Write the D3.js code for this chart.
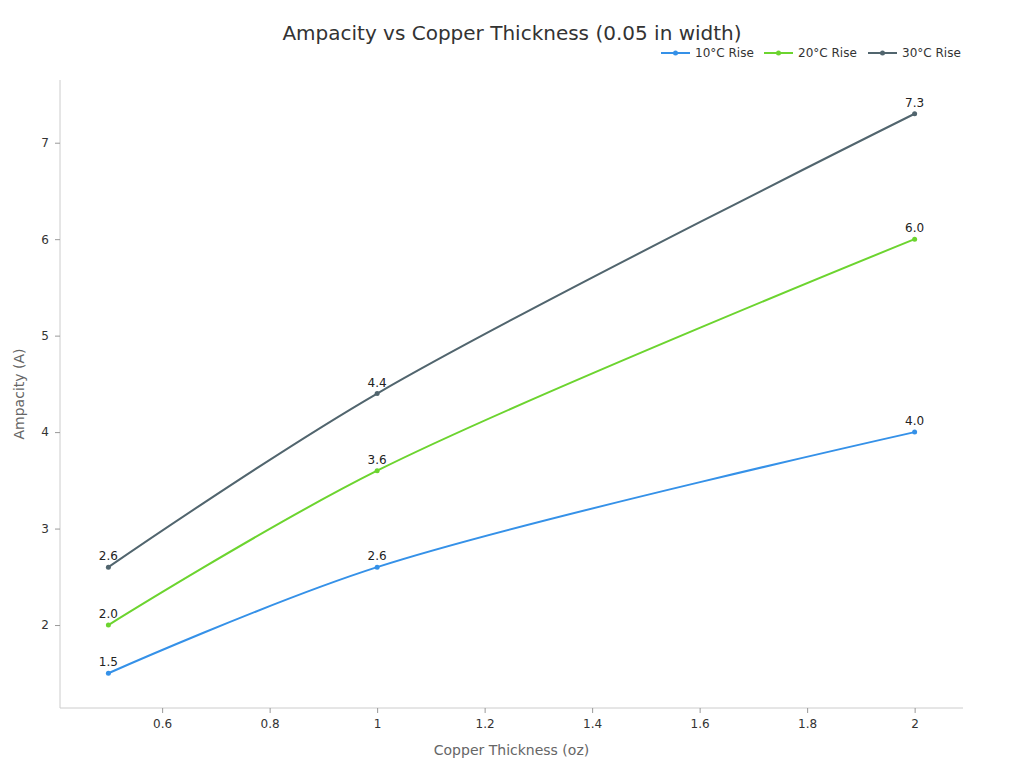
<!DOCTYPE html>
<html>
<head>
<meta charset="utf-8">
<script src="https://cdn.jsdelivr.net/npm/d3@7"></script>
<style>
body { margin: 0; background: #fff; }
text { font-family: "DejaVu Sans", sans-serif; }
</style>
</head>
<body>
<svg id="chart"></svg>
<script>
var thickness = [0.5, 1, 2];
var seriesNames = ['10°C Rise', '20°C Rise', '30°C Rise'];
var rise10 = [1.5, 2.6, 4.0];
var rise20 = [2.0, 3.6, 6.0];
var rise30 = [2.6, 4.4, 7.3];
var colors = ['#3591e8', '#6cd42f', '#51656e'];
var xTicks = [0.6, 0.8, 1, 1.2, 1.4, 1.6, 1.8, 2];
var yTicks = [2, 3, 4, 5, 6, 7];

var width = 1024, height = 768;
var margin = {top: 80, right: 61, bottom: 60, left: 60};

var svg = d3.select('#chart')
    .attr('width', width)
    .attr('height', height);

var x = d3.scaleLinear()
    .domain([0.41, 2.09])
    .range([margin.left, width - margin.right]);
var y = d3.scaleLinear()
    .domain([1.14, 7.65])
    .range([height - margin.bottom, margin.top]);

var series = [rise10, rise20, rise30].map(function(vals, i) {
    return {name: seriesNames[i], color: colors[i],
            points: vals.map((v, j) => ({x: thickness[j], y: v}))};
});

// axes
var xAxis = svg.append('g')
    .attr('transform', 'translate(0,' + (height - margin.bottom) + ')')
    .call(d3.axisBottom(x).tickValues(xTicks).tickSize(5).tickPadding(6).tickFormat(d3.format('')));
var yAxis = svg.append('g')
    .attr('transform', 'translate(' + margin.left + ',0)')
    .call(d3.axisLeft(y).tickValues(yTicks).tickSize(5).tickPadding(6).tickFormat(d3.format('')));
[xAxis, yAxis].forEach(function(a) {
    a.select('.domain').attr('stroke', '#ccc');
    a.selectAll('.tick line').attr('stroke', '#999');
    a.selectAll('.tick text').attr('fill', '#333').style('font-size', '12px');
});
yAxis.select('.domain').attr('d', 'M0,' + margin.top + 'V' + (height - margin.bottom));
xAxis.select('.domain').attr('d', 'M' + margin.left + ',0H' + (width - margin.right));

var line = d3.line()
    .x(d => x(d.x))
    .y(d => y(d.y))
    .curve(d3.curveCatmullRom);

var g = svg.append('g');
series.forEach(function(s) {
    g.append('path')
        .datum(s.points)
        .attr('fill', 'none')
        .attr('stroke', s.color)
        .attr('stroke-width', 2)
        .attr('d', line);
    g.selectAll(null)
        .data(s.points)
        .enter()
        .append('circle')
            .attr('cx', d => x(d.x))
            .attr('cy', d => y(d.y))
            .attr('r', 2.5)
            .attr('fill', s.color);
    g.selectAll(null)
        .data(s.points)
        .enter()
        .append('text')
            .attr('x', d => x(d.x))
            .attr('y', d => y(d.y) - 7)
            .attr('text-anchor', 'middle')
            .attr('fill', '#222')
            .style('font-size', '12px')
            .text(d => d.y.toFixed(1));
});

// title
svg.append('text')
    .attr('x', width / 2)
    .attr('y', 40)
    .attr('text-anchor', 'middle')
    .attr('fill', '#333')
    .style('font-size', '20px')
    .text('Ampacity vs Copper Thickness (0.05 in width)');

// axis labels
svg.append('text')
    .attr('x', (margin.left + width - margin.right) / 2)
    .attr('y', 755)
    .attr('text-anchor', 'middle')
    .attr('fill', '#666')
    .style('font-size', '14px')
    .text('Copper Thickness (oz)');
svg.append('text')
    .attr('transform', 'translate(24,' + ((margin.top + height - margin.bottom) / 2) + ') rotate(-90)')
    .attr('text-anchor', 'middle')
    .attr('fill', '#666')
    .style('font-size', '14px')
    .text('Ampacity (A)');

// legend
var legendX = [661, 764, 868];
var legend = svg.append('g')
    .selectAll('g')
    .data(series)
    .enter()
    .append('g')
        .attr('transform', (d, i) => 'translate(' + legendX[i] + ',53)');
legend.append('line')
    .attr('x1', 0).attr('x2', 29)
    .attr('stroke', d => d.color)
    .attr('stroke-width', 2);
legend.append('circle')
    .attr('cx', 14.5).attr('r', 2.5)
    .attr('fill', d => d.color);
legend.append('text')
    .attr('x', 34)
    .attr('y', 4)
    .attr('fill', '#333')
    .style('font-size', '12px')
    .text(d => d.name);
</script>
</body>
</html>
